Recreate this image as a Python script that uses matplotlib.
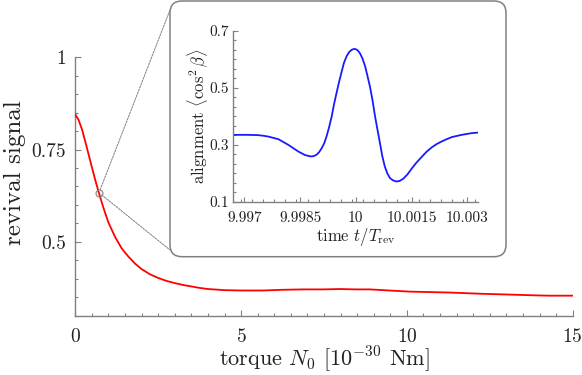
import matplotlib
matplotlib.use("Agg")
import matplotlib.pyplot as plt
import matplotlib.ticker as mticker
from matplotlib.patches import FancyBboxPatch, ConnectionPatch

plt.rcParams["font.family"] = "serif"
plt.rcParams["font.serif"] = ["cmr10"]
plt.rcParams["mathtext.fontset"] = "cm"
plt.rcParams["axes.formatter.use_mathtext"] = True
plt.rcParams["axes.unicode_minus"] = False

AXC = "#808080"
TXT = "#222222"

# main curve: revival signal vs torque
torque = [0.0, 0.1, 0.2, 0.3, 0.4, 0.5, 0.6, 0.7, 0.8, 0.9, 1.0, 1.2, 1.4,
          1.6, 1.8, 2.0, 2.25, 2.5, 2.75, 3.0, 3.25, 3.5, 3.75, 4.0, 4.5,
          5.0, 5.66, 6.27, 6.87, 7.47, 7.97, 8.48, 8.88, 9.28, 10.08, 11.29,
          12.29, 13.09, 13.80, 14.30, 15.0]
revival = [0.845, 0.830, 0.805, 0.772, 0.737, 0.702, 0.668, 0.636, 0.606,
           0.578, 0.552, 0.513, 0.482, 0.460, 0.441, 0.426, 0.412, 0.402,
           0.394, 0.388, 0.383, 0.379, 0.375, 0.372, 0.369, 0.368, 0.368,
           0.370, 0.371, 0.371, 0.372, 0.371, 0.371, 0.369, 0.365, 0.3625,
           0.359, 0.357, 0.355, 0.354, 0.354]
zoom_pt = (0.714, 0.633)

# inset: alignment vs time
time = [9.99670, 9.99710, 9.99737, 9.99750, 9.99764, 9.99791, 9.99818,
        9.99845, 9.99863, 9.99879, 9.99887, 9.99894, 9.99901, 9.99908,
        9.99915, 9.99921, 9.99928, 9.99935, 9.99941, 9.99948, 9.99955,
        9.99962, 9.99968, 9.99975, 9.99982, 9.99989, 9.99995, 10.00000,
        10.00005, 10.00011, 10.00018, 10.00025, 10.00031, 10.00038,
        10.00045, 10.00051, 10.00058, 10.00065, 10.00071, 10.00078,
        10.00085, 10.00092, 10.00100, 10.00110, 10.00118, 10.00128,
        10.00139, 10.00150, 10.00163, 10.00177, 10.00190, 10.00204,
        10.00217, 10.00231, 10.00245, 10.00258, 10.00285, 10.00312, 10.00330]
align = [0.335, 0.335, 0.334, 0.332, 0.329, 0.320, 0.300, 0.2765, 0.264,
         0.259, 0.2605, 0.265, 0.274, 0.288, 0.306, 0.329, 0.362, 0.400,
         0.441, 0.482, 0.522, 0.558, 0.588, 0.611, 0.626, 0.634, 0.637,
         0.636, 0.632, 0.622, 0.603, 0.576, 0.544, 0.505, 0.456, 0.406,
         0.355, 0.306, 0.262, 0.224, 0.199, 0.183, 0.175, 0.171, 0.173,
         0.181, 0.196, 0.2155, 0.237, 0.2567, 0.275, 0.2905, 0.302, 0.3117,
         0.320, 0.327, 0.335, 0.341, 0.343]

main_xticks = [0, 5, 10, 15]
main_yticks = [0.5, 0.75, 1.0]
main_ylabels = ["0.5", "0.75", "1"]
ins_xticks = [9.997, 9.9985, 10.0, 10.0015, 10.003]
ins_xlabels = ["9.997", "9.9985", "10", "10.0015", "10.003"]
ins_yticks = [0.1, 0.3, 0.5, 0.7]
ins_ylabels = ["0.1", "0.3", "0.5", "0.7"]


def style_axes(a, fs, pad_x, pad_y):
    for side in ("top", "right"):
        a.spines[side].set_visible(False)
    for side in ("left", "bottom"):
        a.spines[side].set_color(AXC)
        a.spines[side].set_linewidth(1.0)
    a.tick_params(which="both", direction="in", color=AXC, labelcolor=TXT,
                  labelsize=fs, width=0.8)
    a.tick_params(which="major", length=4.5)
    a.tick_params(which="minor", length=2.5)
    a.tick_params(axis="x", pad=pad_x)
    a.tick_params(axis="y", pad=pad_y)


fig = plt.figure(figsize=(5.82, 3.75), dpi=100, facecolor="white")

# ── main axes ───────────────────────────────────────────────────────────
ax = fig.add_axes([0.1294, 0.1584, 0.8546, 0.6888])
ax.plot(torque, revival, color="#ff0000", lw=1.3, zorder=3)
ax.plot(*zoom_pt, marker="o", ms=5, mfc="none", mec=AXC, mew=0.8, zorder=4)
ax.set_xlim(0, 15)
ax.set_ylim(0.3, 1.0)
ax.xaxis.set_major_locator(mticker.FixedLocator(main_xticks))
ax.xaxis.set_minor_locator(mticker.MultipleLocator(0.5))
ax.yaxis.set_major_locator(mticker.FixedLocator(main_yticks))
ax.yaxis.set_major_formatter(mticker.FixedFormatter(main_ylabels))
ax.yaxis.set_minor_locator(mticker.MultipleLocator(0.05))
style_axes(ax, 14, 9, 6.5)
ax.set_xlabel(r"torque $N_0$ $[10^{-30}$ Nm$]$", fontsize=16, color=TXT)
ax.set_ylabel("revival signal", fontsize=18, color=TXT)
ax.xaxis.set_label_coords(0.5, -0.112)
ax.yaxis.set_label_coords(-0.100, 0.552)

# ── inset frame ─────────────────────────────────────────────────────────
box = FancyBboxPatch((1.70, 1.183), 3.36, 2.557,
                     boxstyle="round,pad=0,rounding_size=0.12",
                     transform=fig.dpi_scale_trans, facecolor="white",
                     edgecolor=AXC, lw=1.1, zorder=5)
fig.add_artist(box)

for fy in (1 - 10 / 375, 1 - 250 / 375):
    con = ConnectionPatch(xyA=zoom_pt, coordsA="data", axesA=ax,
                          xyB=(170 / 582, fy), coordsB="figure fraction",
                          color=AXC, lw=0.7, linestyle=(0, (2, 1.2)),
                          shrinkA=2.5, shrinkB=0, zorder=4)
    fig.add_artist(con)

# ── inset axes ──────────────────────────────────────────────────────────
ins = fig.add_axes([0.4009, 0.4621, 0.421, 0.4552], zorder=6)
ins.patch.set_alpha(0)
ins.plot(time, align, color="#1a1aff", lw=1.3)
ins.set_xlim(9.9967, 10.0033)
ins.set_ylim(0.1, 0.7)
ins.xaxis.set_major_locator(mticker.FixedLocator(ins_xticks))
ins.xaxis.set_major_formatter(mticker.FixedFormatter(ins_xlabels))
ins.xaxis.set_minor_locator(mticker.MultipleLocator(0.0003))
ins.yaxis.set_major_locator(mticker.FixedLocator(ins_yticks))
ins.yaxis.set_major_formatter(mticker.FixedFormatter(ins_ylabels))
ins.yaxis.set_minor_locator(mticker.MultipleLocator(0.2 / 6))
style_axes(ins, 11, 7, 3)
ins.tick_params(which="major", length=3.5)
ins.tick_params(which="minor", length=2)
ins.set_xlabel(r"time $t/T_{\rm rev}$", fontsize=12, color=TXT)
ins.set_ylabel(r"alignment $\langle\cos^2\beta\rangle$", fontsize=12, color=TXT)
ins.xaxis.set_label_coords(0.5, -0.142)
ins.yaxis.set_label_coords(-0.095, 0.5)

fig.savefig("out.png", dpi=100, facecolor="white")
